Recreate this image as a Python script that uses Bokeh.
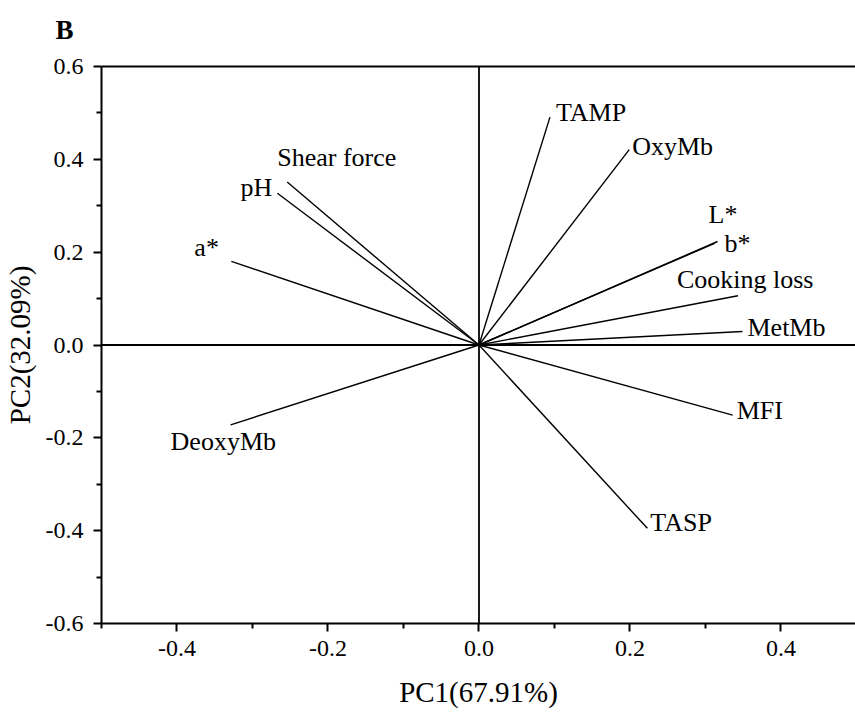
from bokeh.plotting import figure
from bokeh.models import (ColumnDataSource, LinearAxis, Span, Range1d, FixedTicker,
                          PrintfTickFormatter, LabelSet)
from bokeh.embed import file_html
from bokeh.resources import INLINE

# Loadings
variables = ["TAMP", "OxyMb", "L*", "b*", "Cooking loss", "MetMb", "MFI", "TASP",
             "DeoxyMb", "a*", "pH", "Shear force"]
pc1 = [0.094, 0.199, 0.312, 0.316, 0.343, 0.349, 0.336, 0.223,
       -0.329, -0.328, -0.267, -0.254]
pc2 = [0.491, 0.421, 0.219, 0.223, 0.106, 0.029, -0.151, -0.395,
       -0.172, 0.180, 0.327, 0.351]
origin = [0.0] * len(variables)

# label placement (screen pixels, right/up positive)
lab_dx = [6, 3, -6, 7, -61, 5, 4, 3, -60, -37, -37, -10]
lab_dy = [-4, -5, 20, -11, 8, -4, -4, -3, -25, 5, -3, 16]

x_ticks = [-0.4, -0.2, 0.0, 0.2, 0.4]
y_ticks = [-0.6, -0.4, -0.2, 0.0, 0.2, 0.4, 0.6]

FONT = "Liberation Serif"
FRAME_H = 557

src = ColumnDataSource(dict(x0=origin, y0=origin, x1=pc1, y1=pc2, name=variables,
                            dx=lab_dx, dy=lab_dy))

p = figure(frame_width=754, frame_height=FRAME_H,
           x_range=Range1d(-0.5, 0.4987), y_range=Range1d(-0.6, 0.6),
           output_backend="svg", toolbar_location=None,
           x_axis_label="PC1(67.91%)", y_axis_label="PC2(32.09%)",
           min_border_left=93, min_border_top=66, min_border_right=0, min_border_bottom=88)
p.outline_line_color = None
p.grid.visible = False
p.background_fill_color = "white"
p.border_fill_color = "white"

p.title.text = "B"
p.title.text_font = FONT
p.title.text_font_size = "27px"
p.title.text_font_style = "bold"
p.title.text_color = "black"
p.title.align = "left"
p.title.vertical_align = "top"
p.title.offset = -46
p.title.standoff = 27

for ax in (p.xaxis[0], p.yaxis[0]):
    ax.axis_line_width = 2
    ax.axis_line_color = "black"
    ax.major_tick_line_width = 2
    ax.minor_tick_line_width = 2
    ax.major_tick_in = 0
    ax.major_tick_out = 8
    ax.minor_tick_in = 0
    ax.minor_tick_out = 5
    ax.major_label_text_font = FONT
    ax.major_label_text_font_size = "24px"
    ax.major_label_text_color = "black"
    ax.axis_label_text_font = FONT
    ax.axis_label_text_font_size = "29px"
    ax.axis_label_text_font_style = "normal"
    ax.axis_label_text_color = "black"
    ax.formatter = PrintfTickFormatter(format="%.1f")

p.xaxis[0].ticker = FixedTicker(ticks=x_ticks, minor_ticks=[-0.5, -0.3, -0.1, 0.1, 0.3])
p.yaxis[0].ticker = FixedTicker(ticks=y_ticks, minor_ticks=[-0.5, -0.3, -0.1, 0.1, 0.3, 0.5])
p.xaxis[0].major_label_standoff = 9
p.yaxis[0].major_label_standoff = 10
p.xaxis[0].axis_label_standoff = 17
p.yaxis[0].axis_label_standoff = 7

top = LinearAxis(axis_line_width=2, axis_line_color="black",
                 major_tick_line_color=None, minor_tick_line_color=None,
                 major_label_text_font_size="0px", major_label_text_color=None,
                 major_label_standoff=0)
p.add_layout(top, "above")

p.add_layout(Span(location=0, dimension="width", line_color="black", line_width=1.8))
p.add_layout(Span(location=0, dimension="height", line_color="black", line_width=1.8))

p.segment(x0="x0", y0="y0", x1="x1", y1="y1", source=src, line_color="black", line_width=1.4)

labels = LabelSet(x="x1", y="y1", text="name", x_offset="dx", y_offset="dy", source=src,
                  text_font=FONT, text_font_size="26px", text_color="black",
                  text_baseline="alphabetic", text_align="left")
p.add_layout(labels)

open("out.html", "w").write(file_html(p, INLINE))
